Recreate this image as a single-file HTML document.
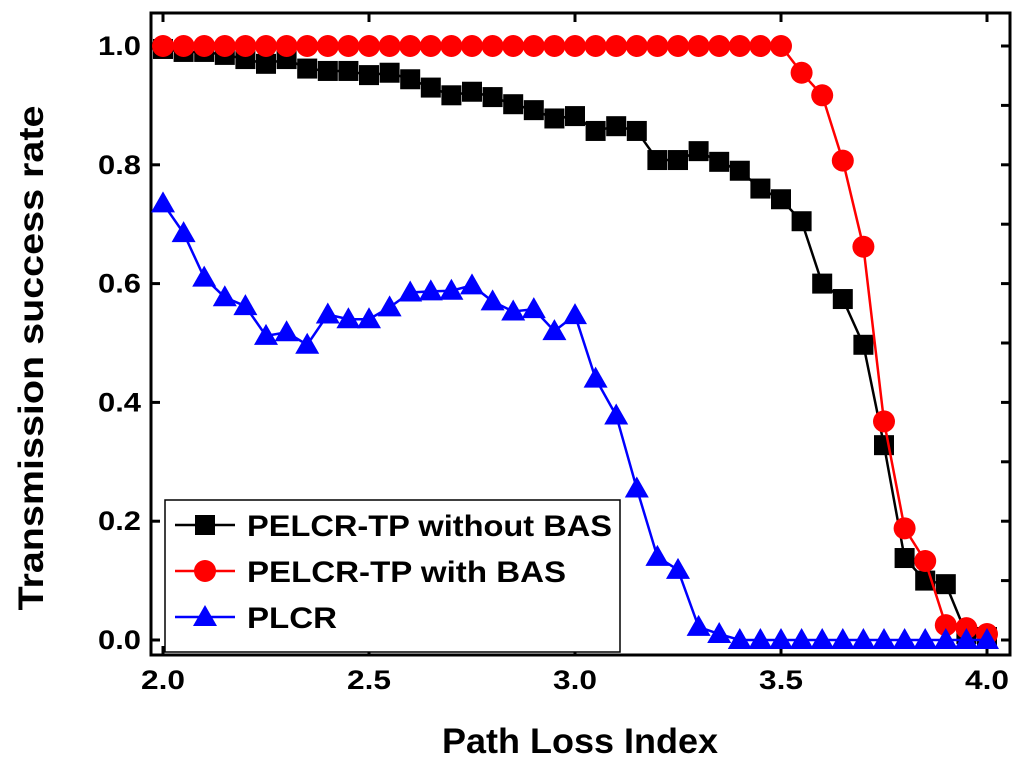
<!DOCTYPE html>
<html><head><meta charset="utf-8"><style>
body{margin:0;background:#fff;}
svg{display:block;font-family:"Liberation Sans",Arial,sans-serif;font-weight:bold;}
</style></head><body>
<svg id="chart" width="1024" height="767" viewBox="0 0 1024 767" xmlns="http://www.w3.org/2000/svg"></svg>
<script>
const xs = [2.0,2.05,2.1,2.15,2.2,2.25,2.3,2.35,2.4,2.45,2.5,2.55,2.6,2.65,2.7,2.75,2.8,2.85,2.9,2.95,3.0,3.05,3.1,3.15,3.2,3.25,3.3,3.35,3.4,3.45,3.5,3.55,3.6,3.65,3.7,3.75,3.8,3.85,3.9,3.95,4.0];
const withoutBAS = [0.995,0.99,0.99,0.985,0.978,0.97,0.978,0.962,0.958,0.958,0.951,0.955,0.944,0.93,0.917,0.923,0.914,0.902,0.892,0.878,0.882,0.857,0.865,0.857,0.808,0.808,0.823,0.805,0.79,0.76,0.742,0.705,0.6,0.574,0.497,0.328,0.138,0.1,0.094,0.01,0.005];
const withBAS = [1,1,1,1,1,1,1,1,1,1,1,1,1,1,1,1,1,1,1,1,1,1,1,1,1,1,1,1,1,1,1,0.955,0.917,0.807,0.662,0.368,0.188,0.133,0.025,0.02,0.01];
const plcr = [0.735,0.685,0.61,0.577,0.562,0.512,0.518,0.497,0.548,0.54,0.54,0.56,0.585,0.587,0.588,0.597,0.57,0.553,0.557,0.52,0.547,0.44,0.378,0.255,0.14,0.118,0.022,0.01,0,0,0,0,0,0,0,0,0,0,0,0,0];
const xTicks = [2.0,2.5,3.0,3.5,4.0];
const yTicks = [0.0,0.2,0.4,0.6,0.8,1.0];
const legendLabels = ["PELCR-TP without BAS","PELCR-TP with BAS","PLCR"];

const NS="http://www.w3.org/2000/svg";
const svg=document.getElementById('chart');
const L=151,R=1010,T=13,B=655;
const X=v=>163+(v-2)*412;
const Y=v=>640-v*594;
function mk(tag,attrs,parent){const e=document.createElementNS(NS,tag);for(const k in attrs)e.setAttribute(k,attrs[k]);(parent||svg).appendChild(e);return e;}

const frame=mk('rect',{x:L,y:T,width:R-L,height:B-T,fill:'none',stroke:'#000','stroke-width':3});



xTicks.forEach(t=>{
  const x=X(t);
  mk('line',{x1:x,y1:B,x2:x,y2:B-9,stroke:'#000','stroke-width':3});
  mk('line',{x1:x,y1:T,x2:x,y2:T+9,stroke:'#000','stroke-width':3});
  const tx=mk('text',{x:x,y:B+34,'text-anchor':'middle','font-size':27,textLength:44,lengthAdjust:'spacingAndGlyphs'});
  tx.textContent=t.toFixed(1);
  
  
});
yTicks.forEach(t=>{
  const y=Y(t);
  mk('line',{x1:L,y1:y,x2:L+9,y2:y,stroke:'#000','stroke-width':3});
  const ty=mk('text',{x:L-10,y:y+9,'text-anchor':'end','font-size':27,textLength:43,lengthAdjust:'spacingAndGlyphs'});
  ty.textContent=t.toFixed(1);
  
  
});
for(let i=0;i<=10;i++){const y=Y(i/10);mk('line',{x1:R,y1:y,x2:R-9,y2:y,stroke:'#000','stroke-width':3});}

const xt=mk('text',{x:580,y:753,'text-anchor':'middle','font-size':35,textLength:276,lengthAdjust:'spacingAndGlyphs'});
xt.textContent='Path Loss Index';


const yt=mk('text',{x:0,y:0,'text-anchor':'middle','font-size':35,textLength:505,lengthAdjust:'spacingAndGlyphs',transform:'translate(43,358) rotate(-90)'});
yt.textContent='Transmission success rate';



function marker(g,type,x,y,color){
  if(type==='sq') return mk('rect',{x:x-10,y:y-10,width:20,height:20,fill:color},g);
  if(type==='ci') return mk('circle',{cx:x,cy:y,r:11,fill:color},g);
  return mk('polygon',{points:`${x},${y-12} ${x-12},${y+9} ${x+12},${y+9}`,fill:color},g);
}
function series(vals,type,color,name){
  const g=mk('g',{});
  
  
  mk('polyline',{points:vals.map((v,i)=>X(xs[i])+','+Y(v)).join(' '),fill:'none',stroke:color,'stroke-width':2.5},g);
  vals.forEach((v,i)=>{const m=marker(g,type,X(xs[i]),Y(v),color);
    
    });
}
series(withoutBAS,'sq','#000','series-without-bas');
series(withBAS,'ci','#f00','series-with-bas');
series(plcr,'tr','#00f','series-plcr');

const lg=mk('g',{});


mk('rect',{x:165,y:500,width:455,height:152,fill:'#fff',stroke:'#000','stroke-width':1.5},lg);
const types=['sq','ci','tr'],colors=['#000','#f00','#00f'];
const legendWidths=[365,319,90];
legendLabels.forEach((lab,i)=>{
  const y=525+i*46;
  const e=mk('g',{},lg);
  
  
  mk('line',{x1:175,y1:y,x2:235,y2:y,stroke:colors[i],'stroke-width':2.5},e);
  marker(e,types[i],205,y,colors[i]);
  const t=mk('text',{x:247,y:y+11,'font-size':30,textLength:legendWidths[i],lengthAdjust:'spacingAndGlyphs'},e);
  t.textContent=lab;
});
</script>
</body></html>
